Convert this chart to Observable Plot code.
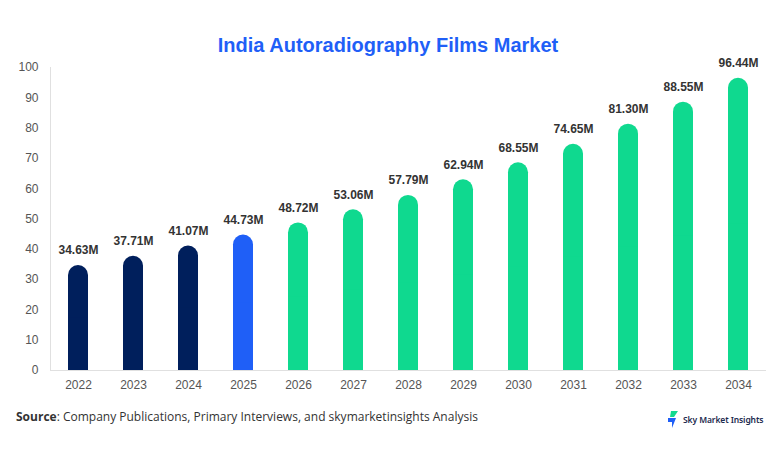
<!DOCTYPE html>
<html>
<head>
<meta charset="utf-8">
<script src="https://cdn.jsdelivr.net/npm/d3@7"></script>
<script src="https://cdn.jsdelivr.net/npm/@observablehq/plot@0.6"></script>
<style>
  html, body { margin: 0; padding: 0; background: #fff; }
  #wrap { position: relative; width: 782px; height: 454px; overflow: hidden; font-family: "Liberation Sans", Arial, sans-serif; }
  #title { position: absolute; top: 33px; left: 0; width: 776px; text-align: center; font: bold 20px "Liberation Sans", Arial, sans-serif; color: #1f5ff7; line-height: 24px; }
  #chart { position: absolute; top: 0; left: 0; }
  #source { position: absolute; top: 408px; left: 16px; font: 12px "Open Sans", sans-serif; color: #333; line-height: 18px; }
  #source b { font-weight: 700; }
  #logo { position: absolute; top: 411px; left: 667px; display: flex; align-items: center; gap: 4px; font: 600 8.5px "Noto Sans", sans-serif; color: #1b2a4e; letter-spacing: -0.1px; }
</style>
</head>
<body>
<div id="wrap">
  <div id="chart"></div>
  <div id="title">India Autoradiography Films Market</div>
  <div id="source"><b>Source</b>: Company Publications, Primary Interviews, and skymarketinsights Analysis</div>
  <div id="logo">
    <svg width="12" height="17" viewBox="0 0 12 17">
      <path d="M4 0 L11 0 L7 6 L3 6 Z" fill="#12d98f"/>
      <path d="M1 7 L9 7 L5 17 L5 11 L1 11 Z" fill="#1f5ff7"/>
    </svg>
    <span>Sky Market Insights</span>
  </div>
</div>
<script>
const years = ["2022","2023","2024","2025","2026","2027","2028","2029","2030","2031","2032","2033","2034"];
const values = [34.63, 37.71, 41.07, 44.73, 48.72, 53.06, 57.79, 62.94, 68.55, 74.65, 81.30, 88.55, 96.44];
const labels = ["34.63M","37.71M","41.07M","44.73M","48.72M","53.06M","57.79M","62.94M","68.55M","74.65M","81.30M","88.55M","96.44M"];
const kinds = ["hist","hist","hist","base","fcst","fcst","fcst","fcst","fcst","fcst","fcst","fcst","fcst"];
const yTicks = [0,10,20,30,40,50,60,70,80,90,100];

const data = years.map((y, i) => ({year: y, value: values[i], label: labels[i], kind: kinds[i]}));

const chart = Plot.plot({
  width: 782,
  height: 400,
  marginTop: 67,
  marginBottom: 30,
  marginLeft: 50,
  marginRight: 16,
  style: { fontFamily: "Liberation Sans, Arial, sans-serif", fontSize: "12px", color: "#555", background: "#fff" },
  x: { domain: years, paddingInner: 0.64, paddingOuter: 0.32, label: null },
  y: { domain: [0, 100], label: null },
  color: { domain: ["hist","base","fcst"], range: ["#001f5c","#1f5ff7","#0fd98f"] },
  marks: [
    Plot.frame({ anchor: "left", stroke: "#e0e0e0" }),
    Plot.barY(data, { x: "year", y: "value", fill: "kind", rx: 10 }),
    Plot.barY(data, { x: "year", y: d => d.value / 2, fill: "kind" }),
    Plot.ruleY([0], { stroke: "#e0e0e0" }),
    Plot.axisY({ ticks: yTicks, tickSize: 0, tickPadding: 12, fill: "#555", fontSize: 12 }),
    Plot.axisX({ tickSize: 0, tickPadding: 10, fill: "#555", fontSize: 12 }),
    Plot.text(data, { x: "year", y: "value", text: "label", dy: -15, fontWeight: "bold", fontSize: 12, fill: "#333" })
  ]
});
document.getElementById("chart").appendChild(chart);
</script>
</body>
</html>
